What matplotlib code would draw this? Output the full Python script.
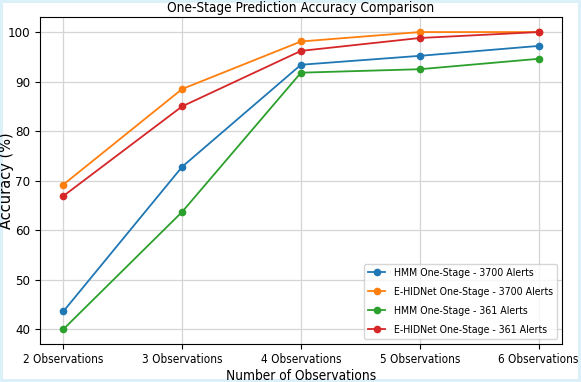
import matplotlib.pyplot as plt
from matplotlib import font_manager as fm

categories = ["2 Observations", "3 Observations", "4 Observations", "5 Observations", "6 Observations"]
hmm_3700 = [43.6, 72.8, 93.4, 95.2, 97.2]
ehid_3700 = [69.2, 88.5, 98.1, 100.0, 100.0]
hmm_361 = [40.0, 63.7, 91.8, 92.5, 94.6]
ehid_361 = [66.9, 85.0, 96.2, 98.8, 100.0]
y_ticks = [40, 50, 60, 70, 80, 90, 100]

# the reference text looks horizontally squeezed -> use a condensed face if there is one
narrow_file = None
for f in fm.fontManager.ttflist:
    if 'Narrow' in f.name or f.stretch == 'condensed' or 'Condensed' in f.name:
        if f.style == 'normal' and f.weight in (400, 'normal', 'regular'):
            narrow_file = f.fname
            break


def fp(size):
    if narrow_file:
        return fm.FontProperties(fname=narrow_file, size=size)
    return fm.FontProperties(family='DejaVu Sans', size=size * 0.88)


fig = plt.figure(figsize=(5.81, 3.82), dpi=100)
fig.patch.set_edgecolor('#dcf0fa')
fig.patch.set_linewidth(3)
ax = fig.add_axes([0.068, 0.099, 0.9, 0.856])

x = range(len(categories))
kw = dict(marker='o', markersize=4.5, linewidth=1.3)
ax.plot(x, hmm_3700, color='#1f77b4', label='HMM One-Stage - 3700 Alerts', **kw)
ax.plot(x, ehid_3700, color='#ff7f0e', label='E-HIDNet One-Stage - 3700 Alerts', **kw)
ax.plot(x, hmm_361, color='#2ca02c', label='HMM One-Stage - 361 Alerts', **kw)
ax.plot(x, ehid_361, color='#d62728', label='E-HIDNet One-Stage - 361 Alerts', **kw)

ax.set_xticks(list(x))
ax.set_xticklabels(categories, fontproperties=fp(8.5))
ax.set_yticks(y_ticks)
ax.set_yticklabels([str(v) for v in y_ticks], fontproperties=fp(9.5))
ax.tick_params(pad=3)

ax.set_title('One-Stage Prediction Accuracy Comparison', fontproperties=fp(9.8), pad=4)
ax.set_xlabel('Number of Observations', fontproperties=fp(9.8), labelpad=2)
ax.set_ylabel('Accuracy (%)', fontsize=10.5)
ax.yaxis.set_label_coords(-0.048, 0.5)
ax.grid(True, color='#d5d5d5', linewidth=0.9)

ax.legend(loc='lower right', prop=fp(7.6), handlelength=1.6, labelspacing=0.85,
          borderaxespad=0.5)

fig.savefig('out.png', dpi=100)
